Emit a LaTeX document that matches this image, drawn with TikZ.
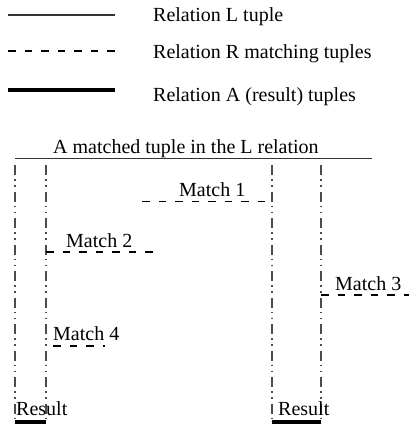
\documentclass[tikz,border=0pt]{standalone}
\usepackage{fontspec}
\setmainfont{Liberation Serif}
\begin{document}
\begin{tikzpicture}[x=1pt,y=-1pt,
  lbl/.style={anchor=base west,inner sep=0pt,font=\fontsize{20}{24}\selectfont},
  ltuple/.style={line width=1.2pt,draw=black!80},
  rtuple/.style={line width=1.1pt,dash pattern=on 7.5pt off 9pt},
  atuple/.style={line width=4.2pt},
  guide/.style={line width=1.1pt,draw=black!70,dash pattern=on 10pt off 4pt on 1.5pt off 4.5pt on 1.5pt off 5pt}]
\useasboundingbox (0,0) rectangle (409,424);
% legend
\coordinate (l1a) at (8,15); \coordinate (l1b) at (115,15);
\coordinate (l2a) at (8,51); \coordinate (l2b) at (115,51);
\coordinate (l3a) at (8,90); \coordinate (l3b) at (115,90);
\draw[ltuple] (l1a) -- (l1b);
\draw[rtuple] (l2a) -- (l2b);
\draw[atuple] (l3a) -- (l3b);
\node[lbl] (t1) at (153,21) {Relation L tuple};
\node[lbl] (t2) at (153,58) {Relation R matching tuples};
\node[lbl] (t3) at (153,101) {Relation A (result) tuples};
% main L tuple
\coordinate (La) at (15,158.5); \coordinate (Lb) at (372,158.5);
\draw[ltuple] (La) -- (Lb);
\node[lbl] (tl) at (53,153) {A matched tuple in the L relation};
% guides
\foreach \n/\x in {g1/15,g2/46,g3/272,g4/321}{
  \coordinate (\n t) at (\x,165);
  \coordinate (\n b) at (\x,422);
  \draw[guide] (\n t) -- (\n b);
}
% results
\draw[atuple] (g1b) -- (g2b);
\draw[atuple] (g3b) -- (g4b);
\node[lbl] (r1) at (16,415) {Result};
\node[lbl] (r2) at (278,415) {Result};
% matches
\coordinate (m1a) at (142,201.5); \coordinate (m1b) at (272,201.5);
\draw[rtuple] (m1a) -- (m1b);
\node[lbl] (tm1) at (179,196) {Match 1};
\coordinate (m2a) at (46,252); \coordinate (m2b) at (157,252);
\draw[rtuple] (m2a) -- (m2b);
\node[lbl] (tm2) at (66,247) {Match 2};
\coordinate (m3a) at (321,295); \coordinate (m3b) at (409,295);
\draw[rtuple] (m3a) -- (m3b);
\node[lbl] (tm3) at (335,290) {Match 3};
\coordinate (m4a) at (53,346); \coordinate (m4b) at (105,346);
\draw[rtuple] (m4a) -- (m4b);
\node[lbl] (tm4) at (53,340) {Match 4};
\end{tikzpicture}
\end{document}
